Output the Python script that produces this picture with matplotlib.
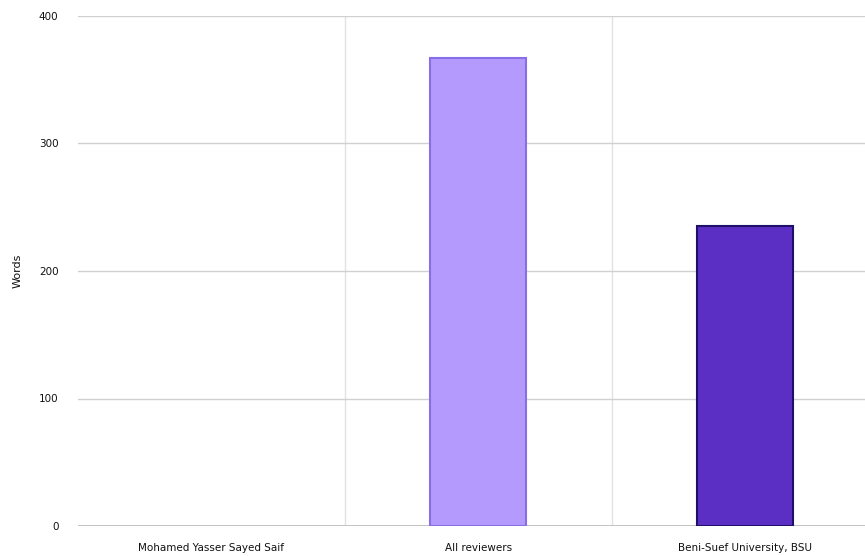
import matplotlib
matplotlib.use("Agg")
import matplotlib.pyplot as plt

categories = ["Mohamed Yasser Sayed Saif", "All reviewers", "Beni-Suef University, BSU"]
values = [0, 367, 235]
colors = ["#b39afc", "#b39afc", "#5b2fc4"]
edges = ["#8a6ee8", "#8a6ee8", "#1e0f6b"]
yticks = [0, 100, 200, 300, 400]

plt.rcParams['font.family'] = ['DejaVu Sans']
fig = plt.figure(figsize=(8.65, 5.56), dpi=100)
ax = fig.add_axes([78/865, 30/556, 1 - 78/865, 510/556])

x = list(range(len(categories)))
lws = [1.5 if v > 0 else 0 for v in values]
ax.bar(x, values, width=0.36, color=colors, edgecolor=edges, linewidth=lws, zorder=3)

ax.set_xlim(-0.5, 2.45)
ax.set_ylim(0, 400)
ax.set_yticks(yticks)
ax.set_xticks(x)
ax.set_xticklabels(categories, fontsize=7.5, color="#111111")
ax.tick_params(axis='y', labelsize=7.5, colors="#111111", length=0, pad=14)
ax.tick_params(axis='x', length=0, pad=12)
ax.set_ylabel("Words", fontsize=8, color="#111111", labelpad=12)

ax.grid(axis='y', color="#d0d0d0", linewidth=1, zorder=0)
for xv in [0.5, 1.5]:
    ax.axvline(xv, color="#e2e2e2", linewidth=1, zorder=0)
for s in ax.spines.values():
    s.set_visible(False)
ax.axhline(0, color="#bbbbbb", linewidth=1.2, zorder=2)

fig.savefig("out.png", dpi=100)
